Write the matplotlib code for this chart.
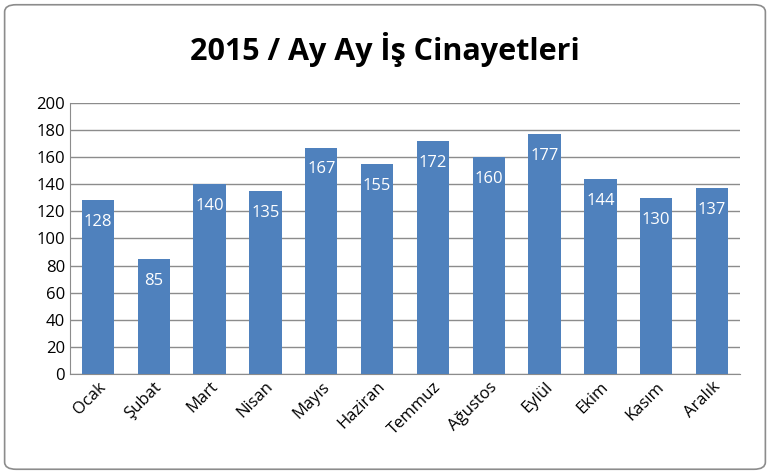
import matplotlib.pyplot as plt
from matplotlib.patches import FancyBboxPatch

months = ['Ocak', 'Şubat', 'Mart', 'Nisan', 'Mayıs', 'Haziran', 'Temmuz',
          'Ağustos', 'Eylül', 'Ekim', 'Kasım', 'Aralık']
deaths = [128, 85, 140, 135, 167, 155, 172, 160, 177, 144, 130, 137]
yticks = list(range(0, 201, 20))

plt.rcParams['font.family'] = ['Open Sans', 'DejaVu Sans']

fig = plt.figure(figsize=(7.7, 4.74), dpi=100)
fig.patches.append(FancyBboxPatch((0.006, 0.01), 0.988, 0.98, boxstyle='round,pad=0,rounding_size=0.015',
                                  transform=fig.transFigure, fill=False, edgecolor='#8c8c8c', lw=1.2))
ax = fig.add_axes([0.091, 0.211, 0.870, 0.572])

x = range(len(months))
ax.bar(x, deaths, width=0.58, color='#4F81BD', zorder=3)
for i, v in zip(x, deaths):
    ax.annotate(str(v), (i, v), xytext=(0, -10), textcoords='offset points',
                ha='center', va='top', color='white', fontsize=12)

ax.set_ylim(0, 200)
ax.set_xlim(-0.5, len(months) - 0.5)
ax.set_yticks(yticks)
ax.yaxis.grid(True, color='#8c8c8c', lw=1, zorder=0)
ax.set_xticks(list(x))
ax.set_xticklabels(months, rotation=45, ha='right', rotation_mode='anchor', fontsize=12)
ax.tick_params(axis='y', labelsize=12, length=0)
ax.tick_params(axis='x', length=0)
for s in ['top', 'right']:
    ax.spines[s].set_visible(False)
ax.spines['left'].set_color('#8c8c8c')
ax.spines['bottom'].set_color('#8c8c8c')

fig.text(0.5, 0.895, '2015 / Ay Ay İş Cinayetleri', ha='center', va='center',
         fontsize=22, fontweight='bold')

fig.savefig('out.png', dpi=100)
